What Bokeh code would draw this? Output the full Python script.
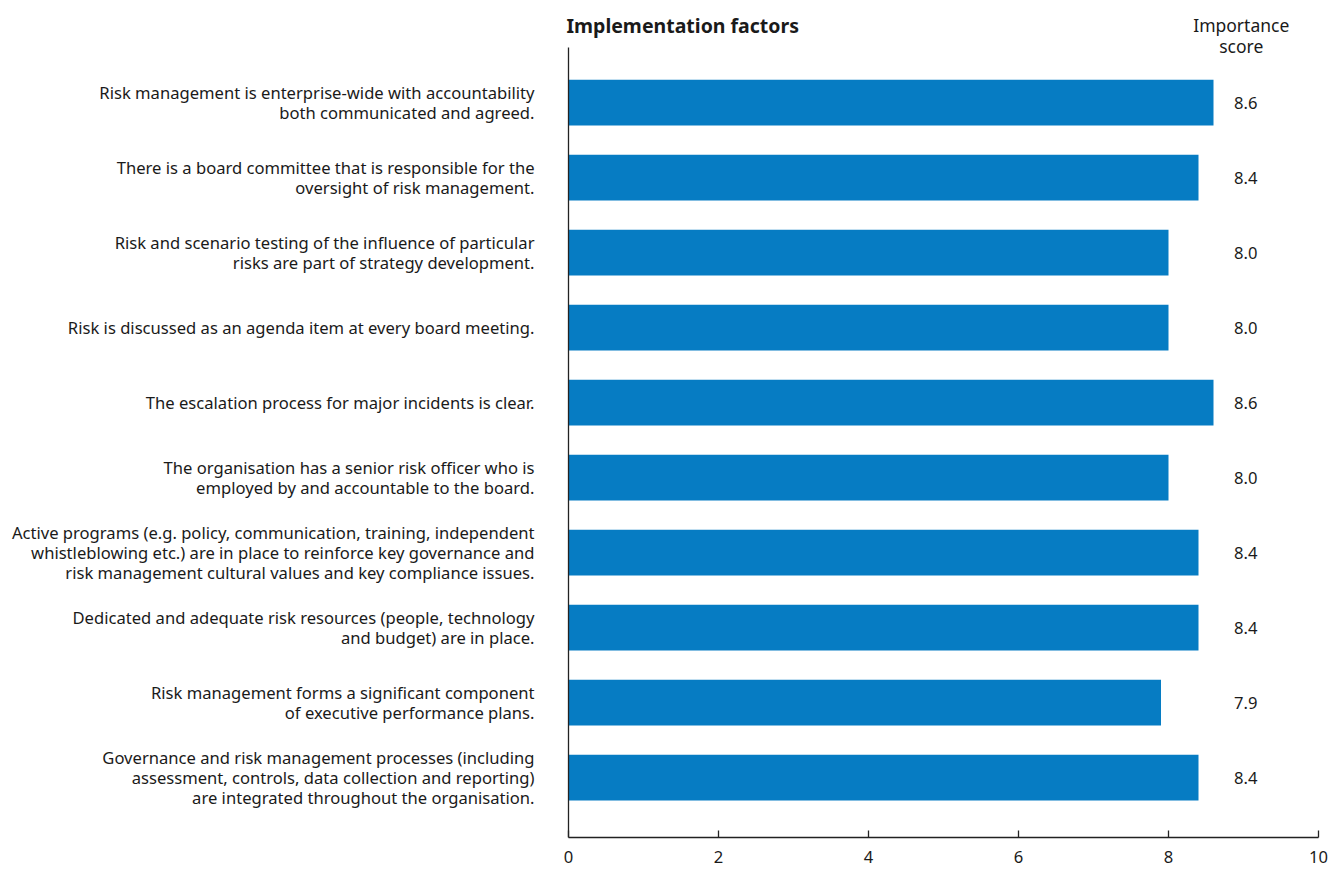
from bokeh.plotting import figure
from bokeh.models import ColumnDataSource, Range1d, FixedTicker, LinearAxis
from bokeh.core.properties import value
from bokeh.embed import file_html
from bokeh.resources import INLINE

factors = [
    "Risk management is enterprise-wide with accountability\nboth communicated and agreed.",
    "There is a board committee that is responsible for the\noversight of risk management.",
    "Risk and scenario testing of the influence of particular\nrisks are part of strategy development.",
    "Risk is discussed as an agenda item at every board meeting.",
    "The escalation process for major incidents is clear.",
    "The organisation has a senior risk officer who is\nemployed by and accountable to the board.",
    "Active programs (e.g. policy, communication, training, independent\nwhistleblowing etc.) are in place to reinforce key governance and\nrisk management cultural values and key compliance issues.",
    "Dedicated and adequate risk resources (people, technology\nand budget) are in place.",
    "Risk management forms a significant component\nof executive performance plans.",
    "Governance and risk management processes (including\nassessment, controls, data collection and reporting)\nare integrated throughout the organisation.",
]
scores = [8.6, 8.4, 8.0, 8.0, 8.6, 8.0, 8.4, 8.4, 7.9, 8.4]
x_ticks = [0, 2, 4, 6, 8, 10]

title_text = "Implementation factors"
score_header = "Importance\nscore"

FONT = value("Noto Sans")
FS = "16.6px"
TXT = "#1a1a1a"
BAR = "#067CC3"
PX = 75.0  # pixels per data unit (both axes)
LH = 0.89

n = len(factors)
ypos = [n - 1 - i for i in range(n)]
src = ColumnDataSource(dict(
    y=ypos,
    score=scores,
    factor=factors,
    label=[f"{s:.1f}" for s in scores],
    lx=[0] * n,
    vx=[9.03] * n,
))

W, H = 1340, 872
x0_px, top_bar_px, axis_px = 568, 102, 837
x_start = -x0_px / PX
x_end = (W - x0_px) / PX
y_end = (n - 1) + top_bar_px / PX
y_start = (n - 1) - (axis_px - top_bar_px) / PX
y_axis_top = (n - 1) + (top_bar_px - 47) / PX

p = figure(width=W, height=H,
           x_range=Range1d(x_start, x_end), y_range=Range1d(y_start, y_end),
           output_backend="svg", toolbar_location=None,
           y_axis_location=None,
           min_border_left=0, min_border_right=0,
           min_border_top=0, min_border_bottom=H - axis_px)
p.outline_line_color = None
p.grid.visible = False
p.background_fill_color = "white"
p.border_fill_color = "white"

p.hbar(y="y", left=0, right="score", height=0.61, source=src,
       fill_color=BAR, line_color=None)

# x axis
p.xaxis.ticker = FixedTicker(ticks=x_ticks)
p.xaxis.bounds = (0, 10)
p.xaxis.major_tick_in = 7
p.xaxis.major_tick_out = 0
p.xaxis.minor_tick_line_color = None
p.xaxis.axis_line_color = "#222222"
p.xaxis.axis_line_width = 1.3
p.xaxis.major_tick_line_color = "#222222"
p.xaxis.major_tick_line_width = 1.3
p.xaxis.major_label_text_font = "Noto Sans"
p.xaxis.major_label_text_font_size = FS
p.xaxis.major_label_text_color = TXT
p.xaxis.major_label_standoff = 13

# vertical axis line at x = 0
yax = LinearAxis(fixed_location=0, bounds=(y_start, y_axis_top),
                 ticker=FixedTicker(ticks=[]),
                 major_tick_line_color=None, minor_tick_line_color=None,
                 axis_line_color="#222222", axis_line_width=1.3)
p.add_layout(yax, "left")

p.text(x="lx", y="y", text="factor", source=src,
       x_offset=-34, text_align="right", text_baseline="middle",
       text_font=FONT, text_font_size=FS, text_color=TXT,
       text_line_height=LH)

p.text(x="vx", y="y", text="label", source=src,
       text_align="center", text_baseline="middle",
       text_font=FONT, text_font_size=FS, text_color=TXT)

p.text(x=[0], y=[(n - 1) + (top_bar_px - 25) / PX], text=[title_text],
       x_offset=-2, text_align="left", text_baseline="middle",
       text_font=FONT, text_font_size="19.5px", text_font_style="bold",
       text_color=TXT)
p.text(x=[8.97], y=[(n - 1) + (top_bar_px - 35) / PX], text=[score_header],
       text_align="center", text_baseline="middle",
       text_font=FONT, text_font_size="17.5px", text_color=TXT,
       text_line_height=0.85)

open("out.html", "w").write(file_html(p, INLINE))
